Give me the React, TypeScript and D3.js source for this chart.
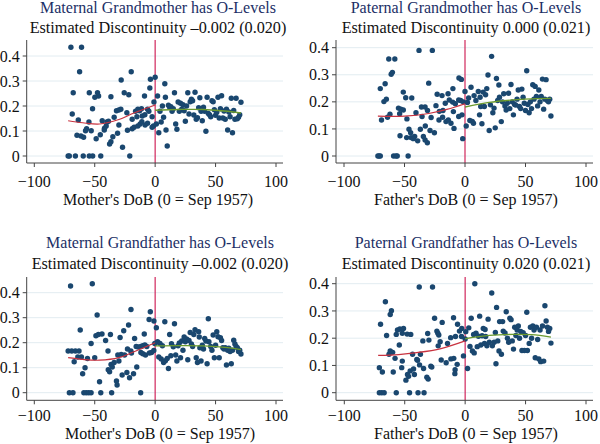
import React from "react";
import * as d3 from "d3";

// ---------- data ----------
const xTicks = [-100, -50, 0, 50, 100];
const xTickLabels = ["\u2212100", "\u221250", "0", "50", "100"];
const yTicks = [0, 0.1, 0.2, 0.3, 0.4];
const yTickLabels = ["0", "0.1", "0.2", "0.3", "0.4"];

const panelTitles = [
  "Maternal Grandmother has O-Levels",
  "Paternal Grandmother has O-Levels",
  "Maternal Grandfather has O-Levels",
  "Paternal Grandfather has O-Levels",
];
const panelSubtitles = [
  "Estimated Discontinuity \u20130.002 (0.020)",
  "Estimated Discontinuity 0.000 (0.021)",
  "Estimated Discontinuity \u20130.002 (0.020)",
  "Estimated Discontinuity 0.020 (0.021)",
];
const xAxisTitles = [
  "Mother's DoB (0 = Sep 1957)",
  "Father's DoB (0 = Sep 1957)",
  "Mother's DoB (0 = Sep 1957)",
  "Father's DoB (0 = Sep 1957)",
];

type P = [number, number];

const maternalGrandmother: P[] = [
  [-72,0],[-71,0],[-66,0],[-59.5,0],[-54.5,0],[-51.7,0],[-45,0],[-21,0],
  [-69.7,0.435],[-60.9,0.435],[-62.5,0.337],[-19.8,0.337],[-28.1,0.304],[-3.9,0.307],[-4.4,0.272],
  [-67.8,0.253],[-54.5,0.253],[-47.7,0.253],[-46.8,0.24],[-49.9,0.235],[-36.6,0.237],[-25.6,0.253],
  [-21.8,0.245],[-8.8,0.24],[-51.8,0.189],[-68.6,0.168],[-32,0.181],[-30,0.184],[-28.4,0.187],
  [-16.2,0.179],[-14.3,0.187],[-12.9,0.181],[-11.3,0.189],[-6.3,0.187],[-5.2,0.179],[-1,0.216],
  [-23.4,0.173],[-33.9,0.155],[-10.7,0.16],[-15.1,0.157],[-19,0.147],[-2.5,0.157],[-8.5,0.165],
  [-43.8,0.141],[-39.9,0.136],[-38.6,0.139],[-63.6,0.144],[-54.8,0.136],[-30,0.124],[-41.9,0.111],
  [-40.5,0.12],[-12.4,0.128],[-11,0.137],[-8.3,0.124],[-6.3,0.131],[-1.4,0.12],[-56.7,0.109],
  [-57.6,0.101],[-52.9,0.101],[-42.1,0.104],[-22.9,0.103],[-19,0.109],[-17.4,0.115],[-14.3,0.12],
  [-2.5,0.115],[-64.7,0.083],[-61.4,0.08],[-59.2,0.075],[-45.4,0.085],[-35,0.077],[-31.1,0.091],
  [-48.8,0.069],[-36.6,0.057],[-37.7,0.048],[-27,0.035],
  [0,0.315],[1,0.128],[2,0.24],[3,0.093],[4,0.179],[5,0.136],[6,0.2],[7,0.155],[8,0.289],[8.5,0.235],
  [9,0.104],[10,0.04],[11,0.203],[12,0.195],[13,0.197],[14,0.179],[15,0.189],[16,0.253],[17,0.128],
  [18,0.107],[19,0.216],[20,0.179],[21,0.211],[22,0.187],[23,0.205],[24,0.181],[25,0.139],[26,0.2],
  [27,0.253],[28,0.168],[29,0.217],[30,0.227],[31,0.221],[32,0.164],[33,0.255],[34,0.147],[35,0.153],
  [36,0.193],[37,0.233],[38,0.179],[39,0.141],[40,0.195],[41,0.179],[42,0.099],[43,0.235],[44,0.17],
  [45,0.165],[46,0.157],[47,0.221],[48,0.217],[49,0.185],[50,0.163],[51,0.175],[52,0.235],[53,0.152],
  [54,0.189],[55,0.241],[56,0.152],[57,0.18],[58,0.147],[59,0.187],[60,0.104],[61,0.176],[62,0.157],
  [63,0.231],[64,0.093],[65,0.182],[66,0.147],[67,0.231],[68,0.149],[69,0.155],[70,0.165],[71,0.215],
];
const maternalGrandmotherRed: P[] = [[-72,0.141],[-60,0.133],[-46,0.128],[-30,0.146],[-18,0.171],[0,0.204]];
const maternalGrandmotherGreen: P[] = [[0,0.183],[20,0.186],[40,0.186],[60,0.179],[71,0.172]];

const paternalGrandmother: P[] = [
  [-72,0],[-71,0],[-70,0],[-59,0],[-57,0],[-56,0],[-47,0],
  [-38,0.39],[-27,0.39],[-63,0.358],[-58,0.358],[-61,0.302],[-60,0.309],[-66,0.267],[-70,0.249],
  [-67,0.201],[-65,0.21],[-51,0.236],[-49,0.215],[-44,0.214],[-30,0.269],[-5,0.288],[-3,0.283],
  [-23,0.228],[-19,0.223],[-14,0.23],[-10,0.249],[-36,0.181],[-33,0.181],[-24,0.186],[-31,0.168],
  [-55,0.177],[-53,0.173],[-54,0.156],[-69,0.133],[-64,0.143],[-62,0.154],
  [-40.5,0.16],[-35.5,0.146],[-28,0.142],[-21.2,0.165],[-18.2,0.168],[-16.3,0.195],[-13,0.207],
  [-10.2,0.199],[-8,0.193],[-5.2,0.207],[-3.6,0.205],[-1.4,0.2],[-21.5,0.133],[-18.5,0.143],
  [-15.7,0.127],[-13.8,0.133],[-11.6,0.121],[-9.1,0.102],[-5.2,0.146],[-2.5,0.152],[-9.6,0.164],
  [-53.7,0.075],[-46.3,0.099],[-44.9,0.086],[-41.6,0.072],[-48.2,0.068],[-44.6,0.068],[-42.7,0.064],
  [-39.1,0.056],[-36.9,0.099],[-34.4,0.072],[-32.8,0.111],[-31.1,0.049],[-28.9,0.094],[-25.3,0.086],
  [-33,0.059],[-48,0.137],[-51,0.17],[-1.9,0.064],
  [0,0.238],[1,0.111],[2,0.198],[3,0.214],[4,0.131],[5,0.254],[6,0.128],[7,0.121],[7.5,0.223],
  [9,0.205],[11,0.238],[12,0.152],[12.5,0.217],[13,0.183],[14,0.119],[15,0.236],[16,0.183],[17,0.226],
  [18,0.249],[19,0.299],[20,0.094],[21,0.189],[22,0.368],[23,0.16],[24,0.177],[25,0.104],[26,0.286],
  [27,0.205],[28,0.262],[28.5,0.217],[30,0.127],[31,0.2],[32,0.23],[33,0.185],[34,0.17],[35,0.195],
  [36,0.232],[37,0.175],[38,0.264],[39,0.2],[40,0.152],[41,0.19],[42,0.188],[43,0.21],[44,0.244],
  [45,0.183],[46,0.175],[47,0.247],[48,0.217],[49,0.195],[50,0.168],[51,0.315],[52,0.19],[53,0.16],
  [54,0.2],[55,0.175],[56,0.263],[57,0.21],[58,0.257],[59,0.22],[60,0.185],[61,0.244],[62,0.2],
  [63,0.22],[64,0.284],[65,0.173],[66,0.21],[67,0.282],[68,0.205],[69,0.2],[70,0.21],[71,0.148],
];
const paternalGrandmotherRed: P[] = [[-72,0.147],[-50,0.147],[-30,0.157],[-15,0.172],[0,0.193]];
const paternalGrandmotherGreen: P[] = [[0,0.181],[20,0.198],[40,0.207],[60,0.212],[71,0.213]];

const maternalGrandfather: P[] = [
  [-71,0],[-68,0],[-59,0],[-57,0],[-55,0],[-53,0],[-45,0],[-36,0],[-12,0],
  [-70,0.427],[-52,0.436],[-48,0.311],[-20,0.333],[-4,0.324],[-1,0.287],[-62,0.251],[-5,0.293],
  [-22,0.271],[-26,0.248],[-29,0.221],[-17,0.217],[-9,0.235],[-37,0.233],[-49,0.228],[-47,0.233],
  [-44,0.235],[-41,0.209],[-53,0.197],[-72,0.167],[-69,0.167],[-66,0.167],[-63,0.167],[-64,0.143],
  [-61,0.143],[-67,0.124],[-56,0.137],[-50,0.14],[-58,0.1],[-60,0.076],[-46,0.044],[-32,0.047],
  [-31.5,0.031],[-36.5,0.113],[-39,0.167],
  [-38.8,0.092],[-37.7,0.084],[-35.5,0.103],[-33.9,0.121],[-30,0.127],[-27.3,0.071],[-23.4,0.081],
  [-21.2,0.06],[-17.9,0.076],[-15.2,0.103],[-30.9,0.151],[-28.1,0.153],[-25.3,0.151],[-22.9,0.175],
  [-20.1,0.167],[-19.6,0.159],[-15.7,0.185],[-14,0.183],[-11.8,0.185],[-10.2,0.188],[-8.5,0.191],
  [-6.9,0.185],[-11.8,0.161],[-10.2,0.156],[-8,0.151],[-4.7,0.159],[-3,0.161],[-1.1,0.169],[-0.3,0.197],
  [1,0.26],[2,0.204],[3,0.143],[4,0.197],[5,0.135],[6,0.188],[7,0.121],[8,0.284],[8.5,0.128],
  [10,0.137],[11,0.097],[12,0.233],[13,0.148],[13.5,0.196],[15,0.184],[16,0.276],[17,0.151],[18,0.127],
  [19,0.188],[20,0.199],[21,0.14],[22,0.207],[23,0.17],[24,0.223],[25,0.204],[26,0.215],[27,0.132],
  [28,0.209],[29,0.241],[30,0.195],[31,0.185],[32,0.233],[33,0.252],[34,0.14],[35,0.121],[36,0.244],
  [36.5,0.223],[37,0.18],[38,0.127],[39,0.19],[40,0.175],[41,0.217],[42,0.207],[43,0.116],[44,0.296],
  [44.5,0.204],[46,0.185],[47,0.17],[48,0.231],[49,0.14],[50,0.19],[51,0.244],[52,0.224],[53,0.14],
  [54,0.22],[55,0.209],[56,0.18],[57,0.175],[58,0.18],[59,0.111],[60,0.17],[61,0.178],[62,0.165],
  [63,0.116],[64,0.17],[65,0.21],[66,0.195],[67,0.185],[68,0.18],[69,0.165],[70,0.17],[71,0.155],
];
const maternalGrandfatherRed: P[] = [[-72,0.14],[-60,0.133],[-46,0.13],[-30,0.14],[-18,0.163],[0,0.2]];
const maternalGrandfatherGreen: P[] = [[0,0.187],[20,0.188],[40,0.187],[60,0.18],[71,0.172]];

const paternalGrandfather: P[] = [
  [-71,0],[-69,0],[-67,0],[-57,0],[-46,0],[-39,0],[-34,0],
  [-38,0.388],[-27,0.388],[-66,0.334],[-61,0.301],[-62,0.287],[-70,0.251],[-65,0.21],[-56,0.23],
  [-54,0.234],[-51,0.236],[-52,0.218],[-48,0.215],[-45,0.214],[-57,0.214],[-54.5,0.175],[-62,0.153],
  [-63,0.141],[-60,0.148],[-58,0.126],[-71,0.092],[-68.5,0.076],[-59.5,0.076],[-52,0.116],[-52.5,0.092],
  [-49,0.046],[-47.7,0.067],[-46.8,0.06],[-45.5,0.08],[-42.7,0.087],[-42,0.067],[-40,0.122],[-43.5,0.141],
  [-37.7,0.102],[-35,0.19],[-34.4,0.089],[-37,0.141],[-39.4,0.119],[-31.7,0.057],[-30.6,0.05],[-28.4,0.097],
  [-27.6,0.094],[-30,0.193],[-31,0.217],[-25.3,0.273],[-23.4,0.226],[-22.6,0.218],[-21.8,0.212],[-19,0.258],
  [-20.7,0.187],[-22.3,0.172],[-19.8,0.12],[-15.7,0.11],[-14.6,0.181],[-12,0.202],[-9.6,0.275],[-8,0.206],
  [-6.3,0.251],[-4.7,0.226],[-3,0.206],[-11.8,0.124],[-9.4,0.126],[-8.3,0.084],[-6.6,0.104],[-8.5,0.07],
  [-1.4,0.135],[-2.8,0.236],
  [0,0.197],[0.5,0.224],[2,0.089],[3,0.238],[4,0.17],[5,0.273],[6,0.153],[7,0.214],[7.5,0.146],[8,0.4],
  [9,0.218],[10,0.169],[11,0.207],[12,0.281],[13,0.175],[14,0.209],[15,0.236],[16,0.181],[16.5,0.232],
  [17,0.206],[18,0.172],[19,0.27],[20,0.185],[22,0.366],[22.5,0.172],[24,0.185],[25,0.221],[25.5,0.106],
  [26,0.313],[27,0.19],[28,0.153],[28.5,0.261],[30,0.141],[31,0.261],[31.5,0.226],[33,0.219],[34,0.297],
  [35,0.2],[36,0.185],[37,0.273],[38,0.268],[39,0.19],[40,0.16],[41,0.24],[42,0.21],[43,0.23],[44,0.245],
  [45,0.2],[46,0.225],[47,0.155],[48,0.22],[49,0.155],[50,0.21],[51,0.295],[51.5,0.155],[53,0.181],
  [54,0.24],[55,0.2],[56,0.245],[57,0.23],[58,0.128],[59,0.24],[60,0.195],[61,0.124],[62,0.23],[62.5,0.114],
  [64,0.245],[65,0.116],[66,0.319],[67,0.263],[68,0.24],[69,0.225],[70,0.236],[71,0.182],
];
const paternalGrandfatherRed: P[] = [[-72,0.137],[-55,0.14],[-40,0.147],[-20,0.162],[0,0.19]];
const paternalGrandfatherGreen: P[] = [[0,0.198],[20,0.21],[40,0.214],[55,0.213],[71,0.204]];

// ---------- layout ----------
type Cfg = {
  axisX: number; right: number; xr: [number, number];
  top: number; bottom: number; yr: [number, number];
  cx: number; t1: number; t2: number; tickBase: number; titleBase: number;
};

const layouts: Cfg[] = [
  { axisX: 26.7, right: 283, xr: [34.3, 276], top: 40, bottom: 163, yr: [156, 56], cx: 158, t1: 13, t2: 32.5, tickBase: 187, titleBase: 205 },
  { axisX: 336, right: 593, xr: [344, 586], top: 40, bottom: 163, yr: [156, 47.7], cx: 466, t1: 13, t2: 32.5, tickBase: 187, titleBase: 205 },
  { axisX: 26.7, right: 283, xr: [34.3, 276], top: 277, bottom: 400.3, yr: [392.7, 292.7], cx: 160, t1: 248, t2: 269, tickBase: 421, titleBase: 439 },
  { axisX: 336, right: 593, xr: [344.3, 586], top: 277, bottom: 400.3, yr: [392.7, 283.7], cx: 466, t1: 248, t2: 269, tickBase: 421, titleBase: 439 },
];

const FONT = "'Liberation Serif', 'Times New Roman', serif";
const NAVY = "#1a476f";

function Panel({ cfg, points, red, green, title, sub, xTitle }: {
  cfg: Cfg; points: P[]; red: P[]; green: P[]; title: string; sub: string; xTitle: string;
}) {
  const x = d3.scaleLinear().domain([-100, 100]).range(cfg.xr);
  const y = d3.scaleLinear().domain([0, 0.4]).range(cfg.yr);
  const line = d3.line<P>().x((d) => x(d[0])).y((d) => y(d[1])).curve(d3.curveCatmullRom);
  return (
    <g fontFamily={FONT}>
      {yTicks.map((t) => (
        <line key={"g" + t} x1={cfg.axisX} x2={cfg.right} y1={y(t)} y2={y(t)} stroke="#e2ecf1" strokeWidth={1} />
      ))}
      <line x1={x(0)} x2={x(0)} y1={cfg.top} y2={cfg.bottom} stroke="#d1275c" strokeWidth={1.2} />
      {points.map((p, i) => (
        <circle key={i} cx={x(p[0])} cy={y(p[1])} r={2.7} fill={NAVY} />
      ))}
      <path d={line(red) || ""} fill="none" stroke="#c8323f" strokeWidth={1.2} />
      <path d={line(green) || ""} fill="none" stroke="#6b9a2e" strokeWidth={1.3} />
      <line x1={cfg.axisX} x2={cfg.axisX} y1={cfg.top} y2={cfg.bottom} stroke="#444" strokeWidth={1} />
      <line x1={cfg.axisX} x2={cfg.right} y1={cfg.bottom} y2={cfg.bottom} stroke="#444" strokeWidth={1} />
      {yTicks.map((t, i) => (
        <g key={"y" + t}>
          <line x1={cfg.axisX - 4} x2={cfg.axisX} y1={y(t)} y2={y(t)} stroke="#444" />
          <text x={cfg.axisX - 7} y={y(t)} dy="0.35em" textAnchor="end" fontSize={16} fill="#111">
            {yTickLabels[i]}
          </text>
        </g>
      ))}
      {xTicks.map((t, i) => (
        <g key={"x" + t}>
          <line x1={x(t)} x2={x(t)} y1={cfg.bottom} y2={cfg.bottom + 4} stroke="#444" />
          <text x={x(t)} y={cfg.tickBase} textAnchor="middle" fontSize={16} fill="#111">
            {xTickLabels[i]}
          </text>
        </g>
      ))}
      <text x={cfg.cx} y={cfg.titleBase} textAnchor="middle" fontSize={16} fill="#111">{xTitle}</text>
      <text x={cfg.cx} y={cfg.t1} textAnchor="middle" fontSize={16} fill="#1c2f66">{title}</text>
      <text x={cfg.cx} y={cfg.t2} textAnchor="middle" fontSize={16.2} fill="#111">{sub}</text>
    </g>
  );
}

const datasets: P[][] = [maternalGrandmother, paternalGrandmother, maternalGrandfather, paternalGrandfather];
const reds: P[][] = [maternalGrandmotherRed, paternalGrandmotherRed, maternalGrandfatherRed, paternalGrandfatherRed];
const greens: P[][] = [maternalGrandmotherGreen, paternalGrandmotherGreen, maternalGrandfatherGreen, paternalGrandfatherGreen];

export default function App() {
  return (
    <svg width={600} height={444} style={{ position: "absolute", left: 0, top: 0, background: "#fff" }}>
      <rect width={600} height={444} fill="#fff" />
      {layouts.map((cfg, i) => (
        <Panel key={i} cfg={cfg} points={datasets[i]} red={reds[i]} green={greens[i]}
          title={panelTitles[i]} sub={panelSubtitles[i]} xTitle={xAxisTitles[i]} />
      ))}
    </svg>
  );
}
